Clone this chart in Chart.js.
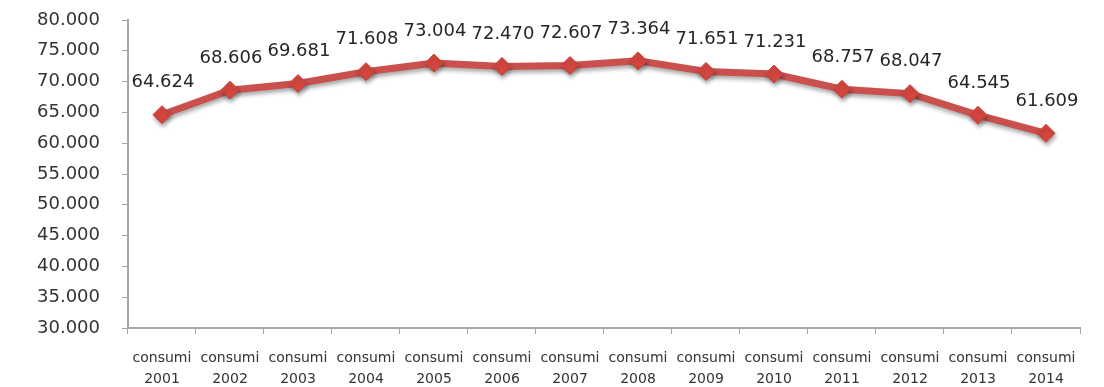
<!DOCTYPE html>
<html>
<head>
<meta charset="utf-8">
<script src="https://cdn.jsdelivr.net/npm/chart.js@4/dist/chart.umd.min.js"></script>
<style>
  html, body { margin: 0; padding: 0; background: #fff; }
  #wrap { width: 1104px; height: 387px; }
</style>
</head>
<body>
<div id="wrap"><canvas id="consumiChart"></canvas></div>
<script>
let years = ["2001", "2002", "2003", "2004", "2005", "2006", "2007", "2008", "2009", "2010", "2011", "2012", "2013", "2014"];
let consumi = [64624, 68606, 69681, 71608, 73004, 72470, 72607, 73364, 71651, 71231, 68757, 68047, 64545, 61609];
let yMin = 30000;
let yMax = 80000;
let yStep = 5000;

let labels = years.map(y => ["consumi", y]);

// 64624 -> "64.624"
const fmt = (v) => {
    return v.toString().replace(/\B(?=(\d{3})+(?!\d))/g, ".");
}

const textColor = "#333333";
const axisColor = "#a6a6a6";

// soft drop shadow under the line
const shadowPlugin = {
    id: "lineShadow",
    beforeDatasetDraw(chart) {
        let c = chart.ctx;
        c.save();
        c.shadowColor = "rgba(0,0,0,0.35)";
        c.shadowBlur = 4;
        c.shadowOffsetX = 1;
        c.shadowOffsetY = 3;
    },
    afterDatasetDraw(chart) {
        chart.ctx.restore();
    }
};

// value labels above every point
const valueLabels = {
    id: "valueLabels",
    afterDatasetsDraw(chart) {
        let c = chart.ctx;
        let meta = chart.getDatasetMeta(0);
        c.save();
        c.font = "18px 'DejaVu Sans'";
        c.fillStyle = "#262626";
        c.textAlign = "center";
        c.textBaseline = "middle";
        meta.data.forEach(function (pt, i) {
            c.fillText(fmt(consumi[i]), pt.x + 1, pt.y - 32);
        });
        c.restore();
    }
};

let ctx = document.getElementById("consumiChart");
let myChart = new Chart(ctx, {
    type: "line",
    data: {
        labels: labels,
        datasets: [{
            label: "consumi",
            data: consumi,
            borderColor: "#c9504c",
            borderWidth: 7,
            pointStyle: "rectRot",
            pointRadius: 9,
            pointBackgroundColor: "#d4473f",
            pointBorderColor: "#c9423c",
            pointBorderWidth: 1,
            tension: 0
        }]
    },
    options: {
        responsive: true,
        maintainAspectRatio: false,
        animation: false,
        layout: {
            padding: { left: 15, right: 24, top: 0, bottom: -17 }
        },
        plugins: {
            legend: { display: false },
            tooltip: { enabled: false }
        },
        scales: {
            x: {
                offset: true,
                grid: {
                    offset: true,
                    drawOnChartArea: false,
                    color: axisColor,
                    tickLength: 6
                },
                border: { color: axisColor, width: 2 },
                ticks: {
                    color: textColor,
                    font: { family: "DejaVu Sans", size: 14, lineHeight: 1.5 },
                    padding: 14,
                    maxRotation: 0,
                    autoSkip: false
                }
            },
            y: {
                min: yMin,
                max: yMax,
                grid: {
                    drawOnChartArea: false,
                    color: axisColor,
                    tickLength: 6
                },
                border: { color: axisColor, width: 2 },
                ticks: {
                    stepSize: yStep,
                    color: textColor,
                    font: { family: "DejaVu Sans", size: 18 },
                    padding: 22,
                    callback: (v) => fmt(v)
                },
                // the tick padding would otherwise push the plot top down
                afterFit: (axis) => {
                    axis.paddingTop = 20;
                    axis.paddingBottom = 0;
                }
            }
        }
    },
    plugins: [shadowPlugin, valueLabels]
});
</script>
</body>
</html>
